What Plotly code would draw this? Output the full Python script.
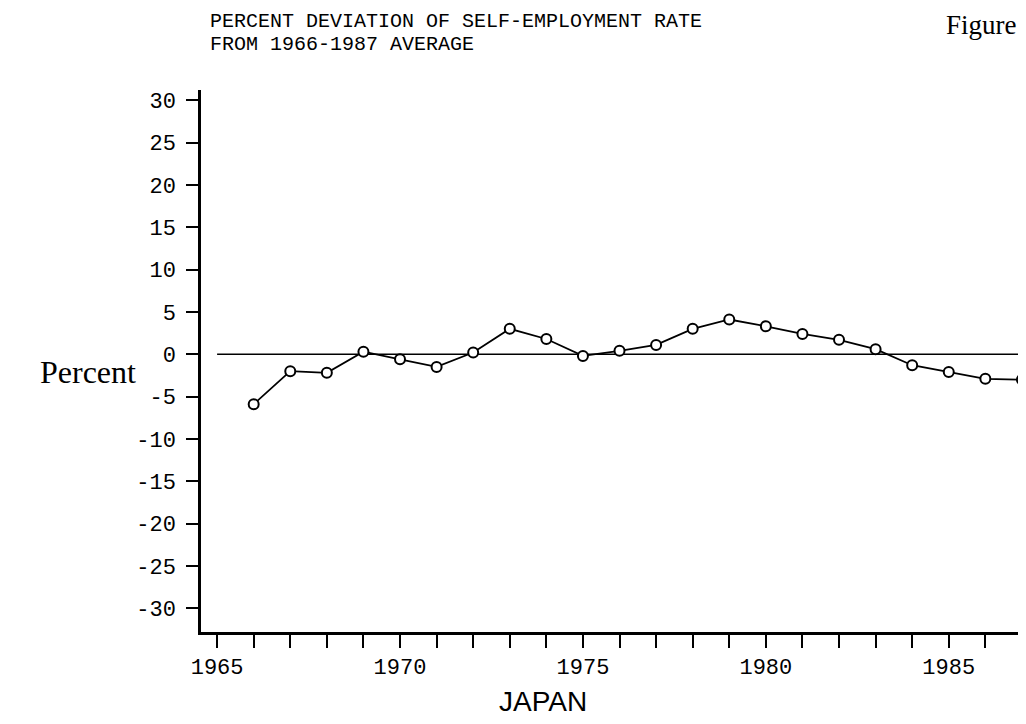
import plotly.graph_objects as go

# Data (percent deviation from 1966-1987 average)
years = [1966, 1967, 1968, 1969, 1970, 1971, 1972, 1973, 1974, 1975, 1976,
         1977, 1978, 1979, 1980, 1981, 1982, 1983, 1984, 1985, 1986, 1987]
deviation = [-5.9, -2.0, -2.2, 0.3, -0.6, -1.5, 0.2, 3.0, 1.8, -0.2, 0.4,
             1.1, 3.0, 4.1, 3.3, 2.4, 1.7, 0.6, -1.3, -2.1, -2.9, -3.0]
zero_line_x = [1965, 1987]
zero_line_y = [0, 0]
y_tick_vals = [30, 25, 20, 15, 10, 5, 0, -5, -10, -15, -20, -25, -30]
y_tick_text = ["30", "25", "20", "15", "10", "5", "0", "-5", "-10", "-15", "-20", "-25", "-30"]
x_tick_vals = [1965, 1970, 1975, 1980, 1985]
x_tick_text = ["1965", "1970", "1975", "1980", "1985"]

W, H = 1026, 724
L, R, T, B = 193, 0, 82, 100
PW, PH = W - L - R, H - T - B

def px(x):
    return (x - L) / PW

def py(y):
    return (H - B - y) / PH

MONO = "Liberation Mono, DejaVu Sans Mono, monospace"
SERIF = "Liberation Serif, Times New Roman, serif"

fig = go.Figure()
fig.add_trace(go.Scatter(
    x=zero_line_x, y=zero_line_y, mode="lines",
    line=dict(color="black", width=1.6), hoverinfo="skip", showlegend=False))
fig.add_trace(go.Scatter(
    x=years, y=deviation, mode="lines+markers",
    line=dict(color="black", width=1.8),
    marker=dict(symbol="circle", size=10, color="white",
                line=dict(color="black", width=2)),
    cliponaxis=False, showlegend=False))

fig.update_layout(
    width=W, height=H,
    margin=dict(l=L, r=R, t=T, b=B),
    paper_bgcolor="white", plot_bgcolor="white",
    showlegend=False,
    xaxis=dict(
        range=[1964.56, 1987.33], showgrid=False, zeroline=False,
        showline=True, linecolor="black", linewidth=2.5,
        tickmode="array", tickvals=x_tick_vals, ticktext=x_tick_text,
        ticks="outside", ticklen=13, tickwidth=2, tickcolor="black",
        minor=dict(dtick=1, tick0=1965, ticks="outside", ticklen=13,
                   tickwidth=2, tickcolor="black", showgrid=False),
        tickfont=dict(family=MONO, size=22, color="black"),
    ),
    yaxis=dict(
        range=[-32.8, 31.2], showgrid=False, zeroline=False,
        showline=True, linecolor="black", linewidth=2.5,
        tickmode="array", tickvals=y_tick_vals, ticktext=y_tick_text,
        ticks="outside", ticklen=12, tickwidth=2, tickcolor="black",
        tickfont=dict(family=MONO, size=22, color="black"),
        ticklabelstandoff=6,
    ),
    annotations=[
        dict(text="PERCENT DEVIATION OF SELF-EMPLOYMENT RATE", xref="paper", yref="paper",
             x=px(201), y=py(13), xanchor="left", yanchor="middle", showarrow=False,
             borderpad=0, font=dict(family=MONO, size=20, color="black")),
        dict(text="FROM 1966-1987 AVERAGE", xref="paper", yref="paper",
             x=px(201), y=py(37), xanchor="left", yanchor="middle", showarrow=False,
             borderpad=0, font=dict(family=MONO, size=20, color="black")),
        dict(text="Percent", xref="paper", yref="paper",
             x=px(80), y=py(364), xanchor="center", yanchor="middle", showarrow=False,
             font=dict(family=SERIF, size=32, color="black")),
        dict(text="JAPAN", xref="paper", yref="paper",
             x=px(535), y=py(693), xanchor="center", yanchor="middle", showarrow=False,
             font=dict(family="Liberation Sans, Arial, sans-serif", size=28, color="black")),
        dict(text="Figure", xref="paper", yref="paper",
             x=px(1010), y=py(17), xanchor="right", yanchor="middle", showarrow=False,
             borderpad=0, font=dict(family=SERIF, size=27, color="black")),
    ],
)

fig.write_html("out.html")
